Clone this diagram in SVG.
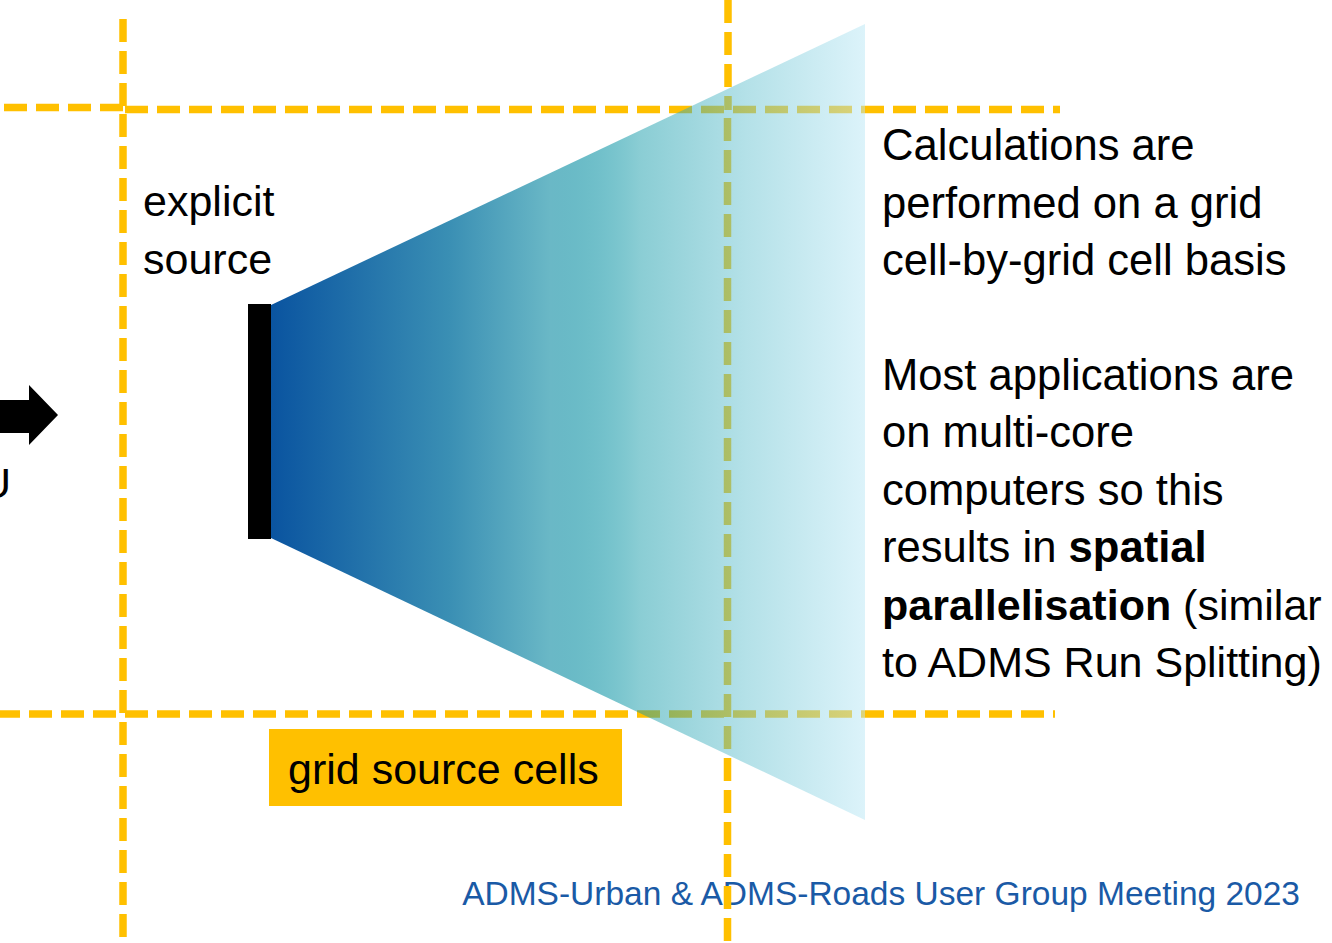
<svg xmlns="http://www.w3.org/2000/svg" width="1332" height="943" viewBox="0 0 1332 943">
  <defs>
    <style>
      .txt { font-family: "Liberation Sans", Arial, sans-serif; font-size: 43px; fill: #000000; }
      .desc { font-size: 43.6px; }
      .grid { stroke: #ffc000; stroke-width: 7.5; fill: none; stroke-dasharray: 23 9; }
      .footer { font-family: "Liberation Sans", Arial, sans-serif; font-size: 33.5px; fill: #1a5aa6; }
    </style>
    <!-- plume fan: opaque dark blue at the source, fading to a translucent pale blue -->
    <linearGradient id="plume" gradientUnits="userSpaceOnUse" x1="271" y1="0" x2="865" y2="0">
      <stop offset="0" stop-color="#0a54a0" stop-opacity="1"/>
      <stop offset="0.3" stop-color="#3a8fb4" stop-opacity="1"/>
      <stop offset="0.47" stop-color="#6ab8c6" stop-opacity="1"/>
      <stop offset="0.62" stop-color="#159ba9" stop-opacity="0.5"/>
      <stop offset="0.8" stop-color="#69c3d1" stop-opacity="0.5"/>
      <stop offset="1" stop-color="#b9e7f5" stop-opacity="0.5"/>
    </linearGradient>
  </defs>

  <rect x="0" y="0" width="1332" height="943" fill="#ffffff"/>

  <!-- footer -->
  <g id="footer">
    <text class="footer" x="1300" y="905" text-anchor="end">ADMS-Urban &amp; ADMS-Roads User Group Meeting 2023</text>
  </g>

  <!-- dashed grid cell boundaries -->
  <g id="grid-lines">
    <line class="grid" x1="4" y1="107.5" x2="123" y2="107.5"/>
    <line class="grid" x1="123" y1="109.5" x2="1060" y2="109.5" stroke-dashoffset="-2"/>
    <line class="grid" x1="0" y1="714" x2="1055" y2="714" stroke-dashoffset="3"/>
    <line class="grid" x1="123" y1="19" x2="123" y2="112"/>
    <line class="grid" x1="123" y1="112" x2="123" y2="943" stroke-dashoffset="-2"/>
    <line class="grid" x1="728" y1="0" x2="728" y2="110"/>
    <line class="grid" x1="727.5" y1="110" x2="727.5" y2="943" stroke-dashoffset="-8"/>
  </g>

  <!-- input arrow and its label, running off the left edge -->
  <g id="input-arrow">
    <polygon points="0,400 29,400 29,385 58,415 29,445 29,433 0,433" fill="#000000"/>
    <text class="txt" x="11" y="498" text-anchor="end">U</text>
  </g>

  <!-- plume spreading from the explicit source -->
  <g id="plume-fan">
    <polygon points="271,305 865,24 865,820 271,538" fill="url(#plume)"/>
  </g>

  <!-- explicit source -->
  <g id="explicit-source">
    <rect x="248" y="304" width="23" height="235" fill="#000000"/>
    <text class="txt" x="143" y="216">explicit</text>
    <text class="txt" x="143" y="274">source</text>
  </g>

  <!-- grid source cells label -->
  <g id="grid-source-cells">
    <rect x="269" y="729" width="353" height="77" fill="#ffc000"/>
    <text class="txt" x="288" y="784">grid source cells</text>
  </g>

  <!-- explanation text -->
  <g id="description">
    <text class="txt desc" x="882" y="160">Calculations are</text>
    <text class="txt desc" x="882" y="218">performed on a grid</text>
    <text class="txt desc" x="882" y="275">cell-by-grid cell basis</text>
    <text class="txt desc" x="882" y="390">Most applications are</text>
    <text class="txt desc" x="882" y="447">on multi-core</text>
    <text class="txt desc" x="882" y="505">computers so this</text>
    <text class="txt desc" x="882" y="562">results in <tspan font-weight="bold">spatial</tspan></text>
    <text class="txt" x="882" y="620"><tspan font-weight="bold">parallelisation</tspan> (similar</text>
    <text class="txt" x="882" y="677">to ADMS Run Splitting)</text>
  </g>
</svg>
